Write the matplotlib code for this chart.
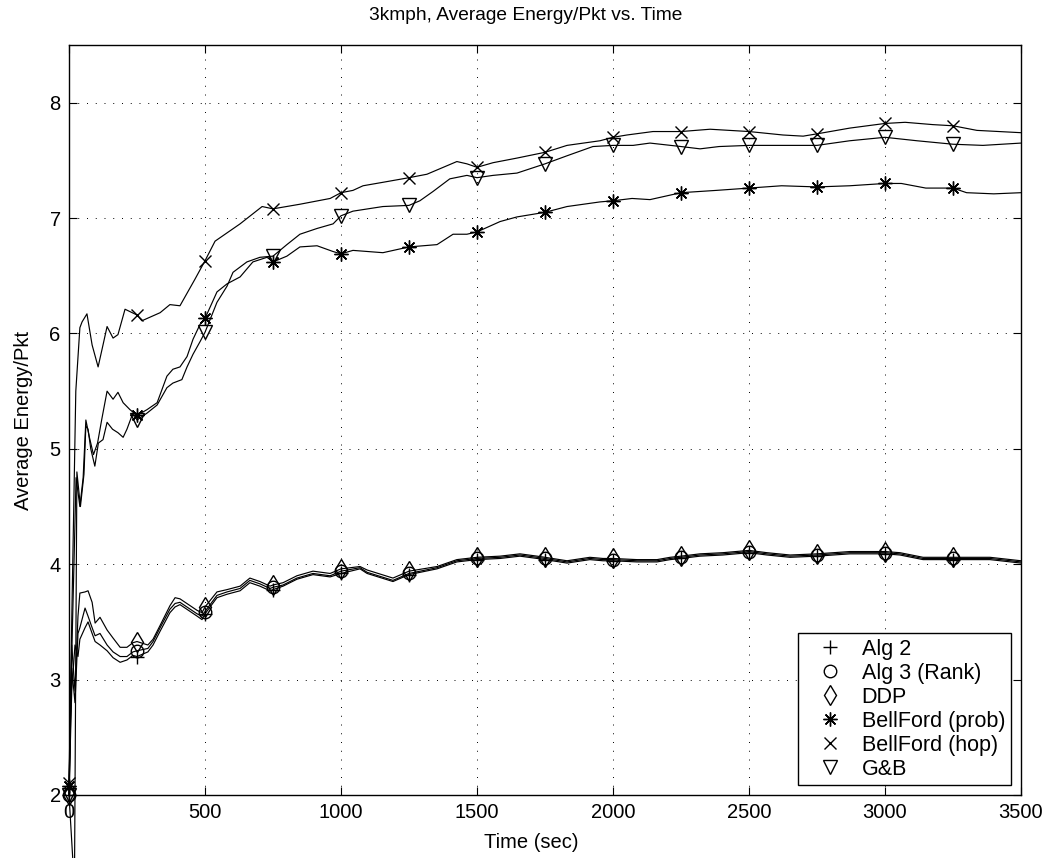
import matplotlib
matplotlib.use("Agg")
import matplotlib.pyplot as plt
from matplotlib.lines import Line2D

plt.rcParams['font.family'] = ['Liberation Sans', 'DejaVu Sans']

# values
t_low = [0, 10, 22, 33, 40, 59, 70, 85, 96, 114, 140, 162, 188, 213, 235,
         250, 290, 309, 335, 371, 390, 408, 471, 489, 500, 544, 581, 629,
         665, 702, 739, 750, 787, 838, 897, 960, 1000, 1070, 1096, 1191,
         1250, 1353, 1426, 1500, 1585, 1658, 1721, 1750, 1831, 1915, 1963,
         2000, 2088, 2162, 2210, 2250, 2320, 2404, 2500, 2566, 2651, 2750,
         2871, 3000, 3055, 3140, 3250, 3386, 3500]

alg2 = [2.00, 2.90, 3.30, 3.20, 3.35, 3.45, 3.50, 3.40, 3.33, 3.30,
        3.25, 3.19, 3.15, 3.17, 3.21, 3.20, 3.24, 3.30, 3.42, 3.58,
        3.63, 3.65, 3.55, 3.52, 3.57, 3.71, 3.74, 3.77, 3.84, 3.81,
        3.77, 3.78, 3.81, 3.87, 3.91, 3.89, 3.92, 3.96, 3.92, 3.85,
        3.91, 3.96, 4.02, 4.04, 4.05, 4.07, 4.05, 4.04, 4.01, 4.04,
        4.03, 4.03, 4.02, 4.02, 4.04, 4.05, 4.07, 4.08, 4.10, 4.08,
        4.06, 4.07, 4.09, 4.09, 4.08, 4.04, 4.04, 4.04, 4.01]

alg3 = [2.00, 3.10, 2.80, 3.40, 3.45, 3.62, 3.55, 3.45, 3.38, 3.40,
        3.30, 3.24, 3.20, 3.20, 3.24, 3.25, 3.27, 3.33, 3.45, 3.61,
        3.66, 3.67, 3.57, 3.55, 3.59, 3.73, 3.76, 3.79, 3.86, 3.83,
        3.79, 3.80, 3.82, 3.88, 3.92, 3.90, 3.94, 3.97, 3.93, 3.86,
        3.92, 3.97, 4.03, 4.05, 4.06, 4.08, 4.06, 4.05, 4.02, 4.05,
        4.04, 4.04, 4.03, 4.03, 4.05, 4.06, 4.08, 4.09, 4.11, 4.09,
        4.07, 4.08, 4.10, 4.10, 4.09, 4.05, 4.05, 4.05, 4.02]

ddp = [2.00, 3.30, 2.90, 3.55, 3.75, 3.76, 3.77, 3.67, 3.49, 3.54,
       3.43, 3.36, 3.28, 3.28, 3.32, 3.33, 3.30, 3.35, 3.47, 3.64,
       3.71, 3.70, 3.60, 3.58, 3.63, 3.76, 3.78, 3.81, 3.88, 3.85,
       3.81, 3.82, 3.84, 3.90, 3.94, 3.92, 3.96, 3.98, 3.95, 3.88,
       3.94, 3.98, 4.04, 4.06, 4.07, 4.09, 4.07, 4.06, 4.03, 4.06,
       4.05, 4.05, 4.04, 4.04, 4.06, 4.07, 4.09, 4.10, 4.12, 4.10,
       4.08, 4.09, 4.11, 4.11, 4.10, 4.06, 4.06, 4.06, 4.03]

t_prob = [0, 12, 26, 40, 52, 62, 75, 90, 105, 120, 140, 162, 180, 199, 224,
          250, 287, 324, 360, 382, 408, 434, 456, 482, 500, 544, 581, 629,
          676, 728, 750, 801, 849, 912, 971, 1000, 1044, 1154, 1250, 1353,
          1412, 1463, 1500, 1585, 1647, 1750, 1831, 1952, 2000, 2070, 2136,
          2250, 2380, 2500, 2620, 2750, 2870, 3000, 3060, 3150, 3250, 3300,
          3400, 3500]
bf_prob = [2.08, 3.40, 4.75, 4.50, 4.75, 5.25, 5.10, 4.95, 5.05, 5.25,
           5.50, 5.43, 5.49, 5.40, 5.34, 5.29, 5.34, 5.40, 5.63, 5.69,
           5.71, 5.80, 5.95, 6.08, 6.13, 6.36, 6.43, 6.49, 6.62, 6.66,
           6.62, 6.67, 6.75, 6.76, 6.71, 6.69, 6.72, 6.70, 6.75, 6.77,
           6.86, 6.86, 6.88, 6.97, 7.01, 7.05, 7.10, 7.14, 7.15, 7.17,
           7.16, 7.22, 7.24, 7.26, 7.28, 7.27, 7.28, 7.30, 7.30, 7.26,
           7.26, 7.22, 7.21, 7.22]

t_hop = [0, 10, 25, 40, 48, 66, 85, 107, 125, 140, 162, 180, 206, 250, 268,
         335, 371, 408, 463, 500, 537, 629, 710, 750, 849, 960, 1000, 1044,
         1081, 1154, 1250, 1316, 1426, 1463, 1500, 1559, 1647, 1750, 1831,
         1952, 2000, 2051, 2147, 2250, 2357, 2500, 2625, 2699, 2750, 2871,
         3000, 3074, 3176, 3250, 3338, 3500]
bf_hop = [2.10, 3.50, 5.50, 6.05, 6.10, 6.17, 5.90, 5.71, 5.90, 6.06,
          5.96, 5.99, 6.21, 6.16, 6.11, 6.18, 6.25, 6.24, 6.47, 6.63,
          6.80, 6.95, 7.10, 7.08, 7.12, 7.17, 7.22, 7.24, 7.28, 7.31,
          7.35, 7.38, 7.49, 7.47, 7.44, 7.48, 7.52, 7.57, 7.63, 7.67,
          7.70, 7.72, 7.75, 7.75, 7.77, 7.75, 7.72, 7.71, 7.73, 7.78,
          7.82, 7.83, 7.81, 7.80, 7.76, 7.74]

t_gb = [0, 20, 29, 42, 55, 62, 70, 80, 95, 108, 125, 140, 160, 180, 199,
        213, 235, 250, 287, 324, 360, 382, 415, 434, 456, 482, 500, 544,
        581, 603, 654, 702, 750, 801, 849, 912, 971, 1000, 1044, 1154, 1250,
        1290, 1338, 1400, 1463, 1500, 1559, 1647, 1750, 1831, 1926, 2000,
        2074, 2136, 2250, 2320, 2390, 2500, 2620, 2750, 2870, 3000, 3118,
        3250, 3360, 3500]
gb = [2.00, 1.20, 4.80, 4.50, 4.78, 5.20, 5.17, 5.00, 4.85, 5.05,
      5.08, 5.23, 5.17, 5.14, 5.10, 5.17, 5.31, 5.25, 5.31, 5.38,
      5.53, 5.57, 5.60, 5.71, 5.82, 5.93, 6.01, 6.27, 6.41, 6.53,
      6.62, 6.66, 6.67, 6.77, 6.86, 6.91, 6.95, 7.02, 7.06, 7.10,
      7.11, 7.15, 7.23, 7.34, 7.37, 7.35, 7.37, 7.39, 7.47, 7.54,
      7.62, 7.63, 7.63, 7.65, 7.62, 7.60, 7.62, 7.63, 7.63, 7.63,
      7.67, 7.70, 7.67, 7.64, 7.63, 7.65]

labels = ["Alg 2", "Alg 3 (Rank)", "DDP", "BellFord (prob)", "BellFord (hop)", "G&B"]
asterisk = (8, 2, 0)  # matlab style '*' (plus and cross)
series = [
    (t_low, alg2, '+', 10),
    (t_low, alg3, 'o', 9),
    (t_low, ddp, 'd', 10),
    (t_prob, bf_prob, asterisk, 10),
    (t_hop, bf_hop, 'x', 8),
    (t_gb, gb, 'v', 10),
]

fig = plt.figure(figsize=(10.45, 8.58), dpi=100)
ax = fig.add_axes([69 / 1045, 63 / 858, 952 / 1045, 750 / 858])

handles = []
for (t, y, m, ms), lab in zip(series, labels):
    # a marker every 250 s, like the original
    marks = [i for i, tt in enumerate(t) if tt % 250 == 0 and tt < 3500]
    ax.plot(t, y, color='k', lw=0.85, marker=m, ms=ms, mfc='none', mec='k',
            mew=1.0, markevery=marks, clip_on=False, zorder=3)
    handles.append(Line2D([], [], color='k', marker=m, ms=ms, mfc='none',
                          mec='k', mew=1.0, linestyle='none'))

ax.set_xlim(0, 3500)
ax.set_ylim(2, 8.5)
ax.set_xticks([0, 500, 1000, 1500, 2000, 2500, 3000, 3500])
ax.set_yticks([2, 3, 4, 5, 6, 7, 8])
ax.grid(True, color='k', linestyle=(0, (1, 8)), linewidth=0.7)
ax.set_axisbelow(True)
ax.tick_params(direction='in', top=True, right=True, length=6, width=0.8,
               labelsize=14.5, pad=6)
for s in ax.spines.values():
    s.set_linewidth(1.0)

ax.set_xlabel("Time (sec)", fontsize=14.5, labelpad=8)
ax.xaxis.label.set_x(0.486)
ax.set_ylabel("Average Energy/Pkt", fontsize=14.5, labelpad=12)
ax.set_title("3kmph, Average Energy/Pkt vs. Time", fontsize=13.8, pad=18, x=0.48)

leg = ax.legend(handles, labels, loc='lower right', bbox_to_anchor=(0.989, 0.013),
                borderaxespad=0, fontsize=15.5, frameon=True, fancybox=False,
                edgecolor='k', framealpha=1, labelspacing=0.14, handletextpad=0.2,
                borderpad=0.25, handlelength=2.5)
leg.get_frame().set_linewidth(1.0)

fig.savefig("out.png", dpi=100)
